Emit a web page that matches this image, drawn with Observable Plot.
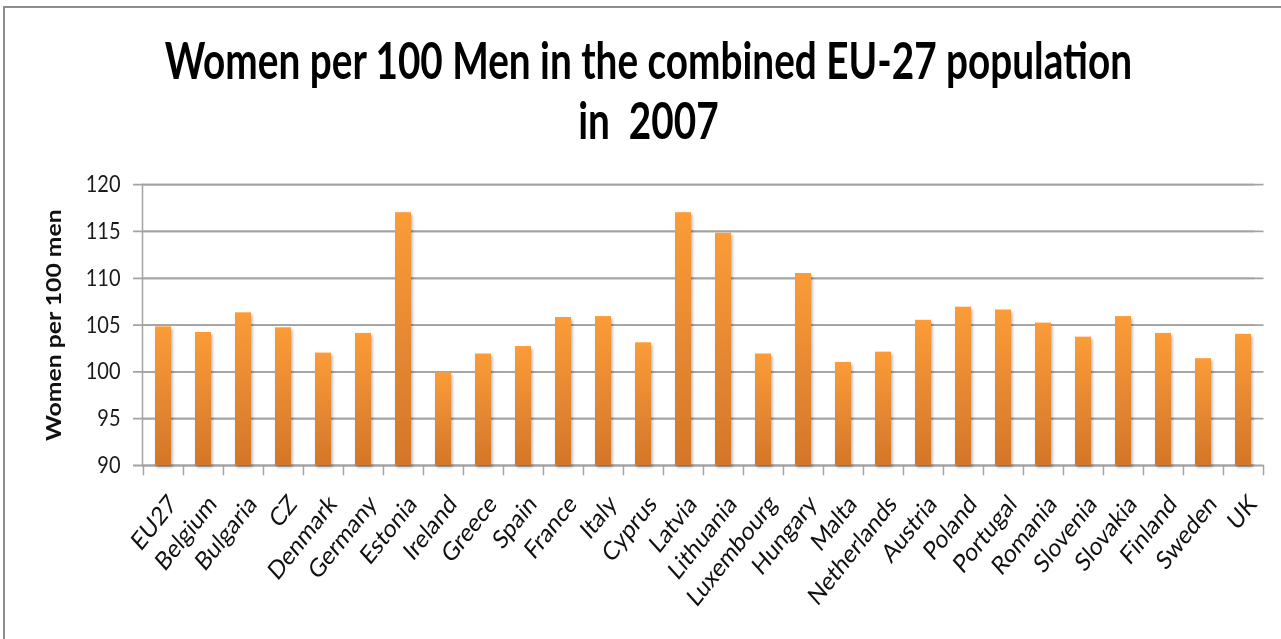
<!DOCTYPE html>
<html><head><meta charset="utf-8">
<script src="https://cdn.jsdelivr.net/npm/d3@7"></script>
<script src="https://cdn.jsdelivr.net/npm/@observablehq/plot@0.6"></script>
<style>
body{margin:0;background:#fff;}
#page{position:relative;width:1281px;height:639px;overflow:hidden;background:#fff;}
#frame{position:absolute;left:3px;top:6px;width:1400px;height:800px;border-top:2px solid #8e8e8e;border-left:2px solid #8e8e8e;}
#inner{position:absolute;left:0;top:0;width:1281px;height:542px;transform:scaleY(1.18);transform-origin:0 0;}
#title{position:absolute;left:0;top:25px;width:1281px;padding-left:16px;box-sizing:border-box;text-align:center;font-family:Lato,sans-serif;font-weight:bold;font-size:44px;line-height:50.5px;color:#000;white-space:pre;transform:scaleX(0.88);transform-origin:648px 0;}
#chart{position:absolute;left:0;top:140px;}
</style></head>
<body>
<div id="page">
<div id="frame"></div>
<div id="inner">
<div id="title">Women per 100 Men in the combined EU-27 population
in  2007</div>
<div id="chart"></div>
</div>
</div>
<script>
const countries = ["EU27","Belgium","Bulgaria","CZ","Denmark","Germany","Estonia","Ireland","Greece","Spain","France","Italy","Cyprus","Latvia","Lithuania","Luxembourg","Hungary","Malta","Netherlands","Austria","Poland","Portugal","Romania","Slovenia","Slovakia","Finland","Sweden","UK"];
const womenPer100Men = [104.8,104.2,106.3,104.7,102.0,104.1,117.0,99.9,101.9,102.7,105.8,105.9,103.1,117.0,114.8,101.9,110.5,101.0,102.1,105.5,106.9,106.6,105.2,103.7,105.9,104.1,101.4,104.0];
const yTicks = [90,95,100,105,110,115,120];
const yLabel = "Women per 100 men";

const data = countries.map((c,i)=>({country:c, value:womenPer100Men[i]}));

const W = 1281, H = 402, mL = 142, mR = 17.5, mT = 16, mB = 148;
const step = (W - mL - mR) / countries.length;
const grid = "#a3a3a3";

const chart = Plot.plot({
  width: W, height: H,
  marginLeft: mL, marginRight: mR, marginTop: mT, marginBottom: mB,
  style: {fontFamily: "Lato, sans-serif", background: "transparent", overflow: "visible"},
  x: {domain: countries, paddingInner: 0.59, paddingOuter: 0.295, axis: null},
  y: {domain: [90,120], axis: null},
  marks: [
    Plot.ruleY(yTicks, {y: d=>d, stroke: grid, strokeWidth: 1.5, dx: -9}),
    Plot.ruleY(yTicks, {y: d=>d, stroke: grid, strokeWidth: 1.5}),
    Plot.frame({anchor: "left", stroke: grid, strokeWidth: 1.5}),
    Plot.barY(data, {x: "country", y1: 90, y2: "value", fill: "url(#barGrad)"}),
    Plot.ruleX(countries, {x: d=>d, dx: -step/2, y1: 90, y2: 88.9, stroke: grid, strokeWidth: 1.5}),
    Plot.ruleX([countries[countries.length-1]], {x: d=>d, dx: step/2, y1: 90, y2: 88.9, stroke: grid, strokeWidth: 1.5}),
    Plot.text(yTicks, {y: d=>d, text: d=>String(d), frameAnchor: "left", dx: -22, textAnchor: "end", fontSize: 20, fill: "#1a1a1a"}),
    Plot.text(countries, {x: d=>d, y: 90, text: d=>d, rotate: -47, textAnchor: "end", lineAnchor: "top", dx: 3, dy: 23, fontSize: 22, fill: "#111"}),
    Plot.text([yLabel], {text: d=>d, frameAnchor: "left", textAnchor: "middle", dx: -88, rotate: -90, fontSize: 21, fontWeight: "bold", fill: "#111"})
  ]
});

const ns = "http://www.w3.org/2000/svg";
const defs = document.createElementNS(ns, "defs");
defs.innerHTML = `
<linearGradient id="barGrad" x1="0" y1="0" x2="0" y2="1">
  <stop offset="0" stop-color="#fb9c38"/>
  <stop offset="1" stop-color="#d3762a"/>
</linearGradient>
<filter id="shadow" x="-40%" y="-10%" width="180%" height="125%">
  <feDropShadow dx="1.5" dy="2" stdDeviation="1.4" flood-color="#000" flood-opacity="0.3"/>
</filter>`;
chart.insertBefore(defs, chart.firstChild);
chart.querySelectorAll("g[aria-label='bar']").forEach(g => g.setAttribute("filter","url(#shadow)"));

document.getElementById("chart").appendChild(chart);
</script>
</body></html>
